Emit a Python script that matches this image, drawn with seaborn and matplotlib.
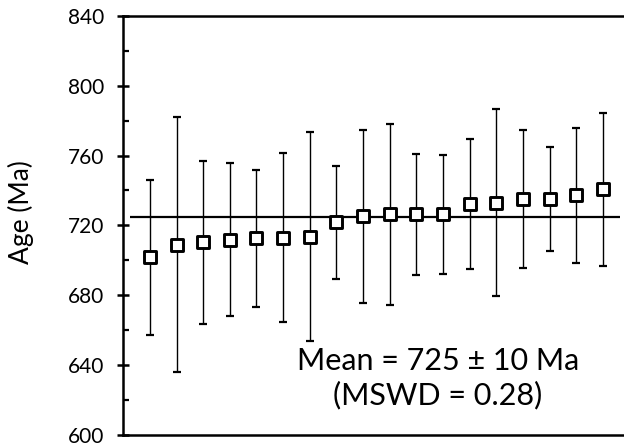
import matplotlib
matplotlib.use("Agg")
import matplotlib.pyplot as plt
import seaborn as sns
import numpy as np
import pandas as pd
from matplotlib.ticker import MultipleLocator

# Data
ages = [701.6, 709.0, 710.3, 711.9, 712.6, 713.0, 713.6, 721.7, 725.3,
        726.3, 726.4, 726.4, 732.3, 733.1, 735.2, 735.2, 737.2, 740.6]
errors = [44.7, 73.0, 46.7, 43.8, 39.3, 48.6, 59.7, 32.6, 49.5,
          51.8, 34.7, 34.0, 37.3, 53.5, 39.6, 30.0, 38.7, 44.0]
mean_age = 725
mean_line_span = [-0.75, 17.65]
y_ticks = [600, 640, 680, 720, 760, 800, 840]
y_label = "Age (Ma)"
note_1 = "Mean = 725 \u00b1 10 Ma"
note_2 = "(MSWD = 0.28)"

df = pd.DataFrame({"idx": np.arange(len(ages)), "age": ages, "err": errors})

sns.set_style("ticks")
plt.rcParams["font.family"] = ["Lato", "DejaVu Sans"]
plt.rcParams["text.color"] = "black"
plt.rcParams["axes.labelcolor"] = "black"
plt.rcParams["ytick.color"] = "black"

fig = plt.figure(figsize=(6.24, 4.45), dpi=100)
ax = fig.add_axes([0.197, 0.023, 0.803, 0.941])

ax.errorbar(df["idx"], df["age"], yerr=df["err"], fmt="none",
            ecolor="black", elinewidth=1.0, capsize=3, capthick=1.6, zorder=2)
ax.hlines(mean_age, mean_line_span[0], mean_line_span[1], color="black",
          linewidth=1.6, zorder=3)
sns.scatterplot(data=df, x="idx", y="age", marker="s", s=85,
                facecolor="white", edgecolor="black", linewidth=2.1,
                ax=ax, zorder=4, legend=False)

ax.set_xlim(-1.01, 17.79)
ax.set_ylim(600, 840)
ax.set_yticks(y_ticks)
ax.yaxis.set_minor_locator(MultipleLocator(20))
ax.tick_params(axis="y", which="major", direction="inout", length=9,
               width=1.8, labelsize=15, pad=9, colors="black")
ax.tick_params(axis="y", which="minor", direction="in", length=4, width=1.6)
ax.set_xticks([])
ax.set_xlabel("")
ax.set_ylabel(y_label, fontsize=19)
ax.yaxis.set_label_coords(-0.178, 0.533)

for side in ["left", "top", "bottom"]:
    ax.spines[side].set_linewidth(1.8)
    ax.spines[side].set_color("black")
ax.spines["right"].set_visible(False)

ax.text(10.8, 642.5, note_1, fontsize=22, ha="center", va="center")
ax.text(10.8, 622.5, note_2, fontsize=22, ha="center", va="center")

fig.savefig("out.png", dpi=100)
